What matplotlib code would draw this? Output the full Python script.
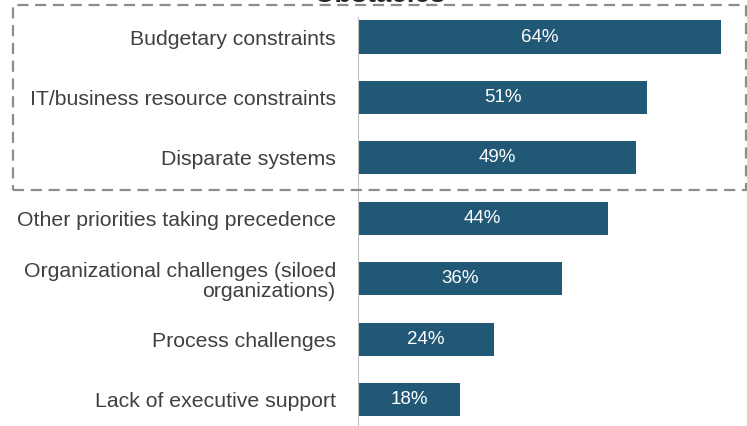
import matplotlib
matplotlib.use("Agg")
import matplotlib.pyplot as plt
from matplotlib.patches import Rectangle

plt.rcParams['font.family'] = ['Liberation Sans', 'DejaVu Sans']

categories = [
    "Budgetary constraints",
    "IT/business resource constraints",
    "Disparate systems",
    "Other priorities taking precedence",
    "Organizational challenges (siloed\norganizations)",
    "Process challenges",
    "Lack of executive support",
]
values = [64, 51, 49, 44, 36, 24, 18]
value_labels = ["64%", "51%", "49%", "44%", "36%", "24%", "18%"]

W, H = 747, 426
fig = plt.figure(figsize=(W / 100, H / 100), dpi=100)

# axes placed in pixel terms: zero line at x=358, 64% ends at x=721
left, right = 358, 721
top, bottom = 6.8, 429.8
ax = fig.add_axes([left / W, 1 - bottom / H, (right - left) / W, (bottom - top) / H])

bar_color = "#215876"
ypos = list(range(len(categories)))
ax.barh(ypos, values, height=0.55, color=bar_color, zorder=2)
ax.set_xlim(0, 64)
ax.set_ylim(6.5, -0.5)

for y, v, lab in zip(ypos, values, value_labels):
    ax.text(v / 2, y, lab, ha="center", va="center", color="white", fontsize=13.5)

ax.set_yticks(ypos)
ax.set_yticklabels(categories, fontsize=15.3, color="#404040", linespacing=1.1)
ax.tick_params(axis="y", length=0, pad=16)
ax.set_xticks([])
for s in ax.spines.values():
    s.set_visible(False)
ax.axvline(0, ymin=0, ymax=(bottom - 18) / (bottom - top), color="#bfbfbf", lw=1.5, zorder=3)

# dashed box around the top three obstacles
box = Rectangle((13 / W, 1 - 190 / H), (746 - 13) / W, (190 - 5) / H, transform=fig.transFigure,
                fill=False, edgecolor="#8c8c8c", lw=1.6, linestyle=(0, (5, 3)), clip_on=False)
fig.patches.append(box)

# title mostly cropped off the top
fig.text(380 / W, 1 - 2 / H, "Obstacles", ha="center", va="baseline", fontsize=20,
         fontweight="bold", color="#262626")

fig.savefig("out.png", dpi=100)
